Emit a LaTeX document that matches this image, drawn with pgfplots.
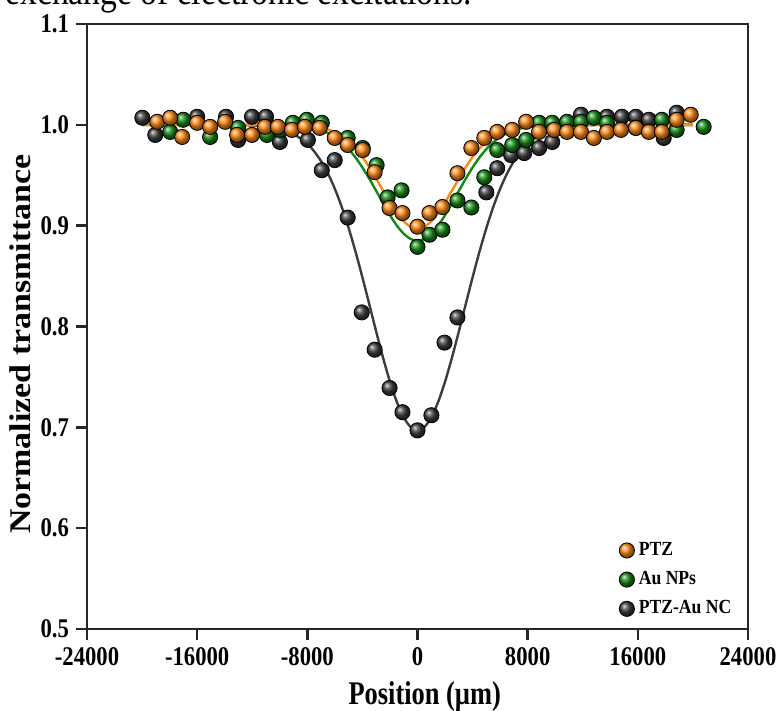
\documentclass[border=0pt]{standalone}
\usepackage{fontspec}
\setmainfont{Liberation Serif}
\newfontfamily\tickfont{Liberation Serif}[FakeStretch=0.84]
\newfontfamily\xlabfont{Liberation Serif}[FakeStretch=0.8]
\newfontfamily\ylabfont{Liberation Serif}[FakeStretch=1.13]
\newfontfamily\legfont{Liberation Serif}[FakeStretch=0.88]
\usepackage{pgfplots}
\pgfplotsset{compat=1.18}

\definecolor{ptzorange}{RGB}{255,136,20}
\definecolor{aunpgreen}{RGB}{18,138,18}
\definecolor{ncgray}{RGB}{60,60,60}

\begin{document}
\begin{tikzpicture}
\begin{axis}[
    scale only axis,
    width=330.5pt, height=302.5pt,
    xmin=-24000, xmax=24000,
    ymin=0.5, ymax=1.1,
    clip=false,
    scaled x ticks=false,
    xtick={-24000,-16000,-8000,0,8000,16000,24000},
    xticklabels={-24000,-16000,-8000,0,8000,16000,24000},
    ytick={0.5,0.6,0.7,0.8,0.9,1.0,1.1},
    yticklabels={0.5,0.6,0.7,0.8,0.9,1.0,1.1},
    xtick pos=bottom, ytick pos=left,
    tick align=outside,
    major tick length=5.5pt,
    tick style={line width=1.2pt, black!85},
    axis line style={line width=1.4pt, black!85},
    ticklabel style={font=\tickfont\bfseries\fontsize{13.5}{15}\selectfont},
    xlabel={Position (µm)},
    ylabel={Normalized transmittance},
    xlabel style={font=\xlabfont\bfseries\fontsize{16.5}{18}\selectfont,
        at={(axis description cs:0.511,-0.111)}, anchor=center},
    ylabel style={font=\ylabfont\bfseries\fontsize{15}{17}\selectfont,
        at={(axis description cs:-0.1014,0.471)}, anchor=center},
    legend style={draw=none, fill=none, at={(axis description cs:0.795,0.157)},
        anchor=north west, font=\legfont\bfseries\fontsize{10}{12}\selectfont,
        row sep=2.5pt},
    legend cell align=left,
]
% fitted curves
\addplot[ncgray, line width=1.2pt, smooth, forget plot] coordinates {
(-20000,1.000) (-14000,1.000) (-12000,0.9994) (-11000,0.9984) (-10000,0.9961)
(-9000,0.9910) (-8000,0.9811) (-7500,0.9736) (-7000,0.9639) (-6500,0.9516)
(-6000,0.9365) (-5500,0.9185) (-5000,0.8976) (-4500,0.8742) (-4000,0.8487)
(-3500,0.8220) (-3000,0.7950) (-2500,0.7690) (-2000,0.7453) (-1500,0.7252)
(-1000,0.7099) (-500,0.7003) (0,0.6970)
(500,0.7003) (1000,0.7099) (1500,0.7252) (2000,0.7453) (2500,0.7690)
(3000,0.7950) (3500,0.8220) (4000,0.8487) (4500,0.8742) (5000,0.8976)
(5500,0.9185) (6000,0.9365) (6500,0.9516) (7000,0.9639) (7500,0.9736)
(8000,0.9811) (9000,0.9910) (10000,0.9961) (11000,0.9984) (12000,0.9994)
(14000,1.000) (20000,1.000)
};
\addplot[aunpgreen, line width=1.2pt, smooth, forget plot] coordinates {
(-20000,1.000) (-10000,1.000) (-9000,0.9993) (-8000,0.9979) (-7000,0.9946)
(-6500,0.9918) (-6000,0.9879) (-5500,0.9826) (-5000,0.9759) (-4500,0.9676)
(-4000,0.9577) (-3500,0.9465) (-3000,0.9345) (-2500,0.9222) (-2000,0.9104)
(-1500,0.9001) (-1000,0.8920) (-500,0.8868) (0,0.8850)
(500,0.8868) (1000,0.8920) (1500,0.9001) (2000,0.9104) (2500,0.9222)
(3000,0.9345) (3500,0.9465) (4000,0.9577) (4500,0.9676) (5000,0.9759)
(5500,0.9826) (6000,0.9879) (6500,0.9918) (7000,0.9946) (8000,0.9979)
(9000,0.9993) (10000,1.000) (20000,1.000)
};
\addplot[ptzorange, line width=1.2pt, smooth, forget plot] coordinates {
(-20000,1.000) (-10000,1.000) (-9000,0.9997) (-8000,0.9990) (-7000,0.9971)
(-6500,0.9953) (-6000,0.9926) (-5500,0.9887) (-5000,0.9834) (-4500,0.9765)
(-4000,0.9680) (-3500,0.9579) (-3000,0.9466) (-2500,0.9347) (-2000,0.9231)
(-1500,0.9126) (-1000,0.9043) (-500,0.8989) (0,0.8970)
(500,0.8989) (1000,0.9043) (1500,0.9126) (2000,0.9231) (2500,0.9347)
(3000,0.9466) (3500,0.9579) (4000,0.9680) (4500,0.9765) (5000,0.9834)
(5500,0.9887) (6000,0.9926) (6500,0.9953) (7000,0.9971) (8000,0.9990)
(9000,0.9997) (10000,1.000) (20000,1.000)
};
% measured points
\addplot[only marks, mark=ball, mark size=3.8pt, ball color=ncgray,
    mark options={ball color=ncgray}, forget plot] coordinates {
(-19980,1.007) (-19040,0.990) (-16000,1.008) (-13900,1.008) (-13030,0.985)
(-12020,1.008) (-11000,1.008) (-9990,0.983) (-7960,0.985) (-6950,0.955)
(-6010,0.965) (-5070,0.908) (-4050,0.814) (-3110,0.777) (-2030,0.739)
(-1090,0.715) (0,0.697) (1010,0.712) (1960,0.784) (2900,0.809)
(5000,0.933) (5790,0.957) (6800,0.970) (7750,0.972) (8830,0.977)
(9780,0.983) (11870,1.010) (13760,1.008) (14840,1.008) (15860,1.008)
(16800,1.005) (17880,0.987) (18820,1.012)
};
\addplot[only marks, mark=ball, mark size=3.8pt, ball color=aunpgreen,
    mark options={ball color=aunpgreen}, forget plot] coordinates {
(-17960,0.993) (-17010,1.005) (-15060,0.988) (-13030,0.997) (-10930,0.990)
(-9990,0.995) (-9050,1.002) (-8040,1.005) (-6950,1.002) (-5070,0.987)
(-3980,0.977) (-2970,0.960) (-2170,0.928) (-1160,0.935) (0,0.879)
(870,0.891) (1810,0.896) (2900,0.925) (3910,0.918) (4850,0.948)
(5790,0.975) (6880,0.980) (7890,0.985) (8830,1.002) (9780,1.002)
(10860,1.003) (11870,1.003) (12810,1.007) (13760,1.002) (15860,0.997)
(17740,1.005) (18820,0.995) (20780,0.998)
};
\addplot[only marks, mark=ball, mark size=3.8pt, ball color=ptzorange,
    mark options={ball color=ptzorange}, forget plot] coordinates {
(-18900,1.003) (-17960,1.007) (-17090,0.988) (-16000,1.002) (-15060,0.998)
(-13970,1.003) (-13100,0.990) (-12020,0.990) (-11080,0.998) (-10140,0.998)
(-9120,0.995) (-8180,0.998) (-7100,0.997) (-6010,0.987) (-5070,0.980)
(-3980,0.975) (-3110,0.953) (-2030,0.9175) (-1090,0.9125) (0,0.899)
(870,0.9125) (1810,0.9185) (2900,0.952) (3910,0.977) (4850,0.987)
(5790,0.993) (6880,0.995) (7890,1.003) (8830,0.993) (9920,0.995)
(10860,0.993) (11870,0.993) (12810,0.987) (13760,0.993) (14770,0.995)
(15860,0.997) (16800,0.993) (17740,0.993) (18820,1.005) (19840,1.010)
};
\addlegendimage{only marks, mark=ball, mark size=3.8pt, ball color=ptzorange, mark options={ball color=ptzorange}}
\addlegendentry{PTZ}
\addlegendimage{only marks, mark=ball, mark size=3.8pt, ball color=aunpgreen, mark options={ball color=aunpgreen}}
\addlegendentry{Au NPs}
\addlegendimage{only marks, mark=ball, mark size=3.8pt, ball color=ncgray, mark options={ball color=ncgray}}
\addlegendentry{PTZ-Au NC}
% caption text cut by the top edge
\node[anchor=base west, inner sep=0pt, font=\tickfont\fontsize{20}{24}\selectfont]
    at ([xshift=-41pt,yshift=9.5pt]rel axis cs:0,1) {exchange of electronic excitations.};
\end{axis}
\pgfresetboundingbox
\path ([xshift=-43.5pt,yshift=-41pt]current axis.south west) rectangle ([xshift=17pt,yshift=12pt]current axis.north east);
\end{tikzpicture}
\end{document}
